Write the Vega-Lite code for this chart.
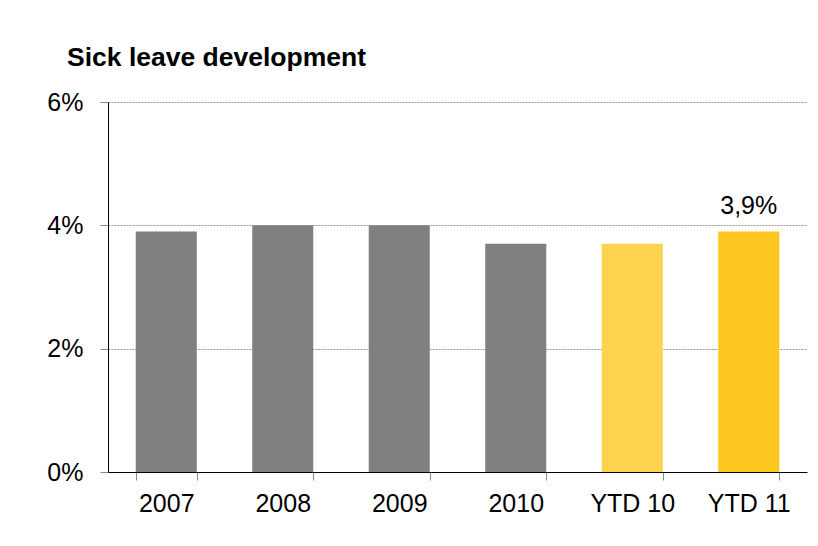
{
  "$schema": "https://vega.github.io/schema/vega-lite/v6.json",
  "autosize": "none",
  "width": 699,
  "height": 370,
  "padding": {"left": 108, "top": 102, "right": 11, "bottom": 74},
  "background": "white",
  "title": {
    "text": "Sick leave development",
    "anchor": "start",
    "frame": "group",
    "dx": -41,
    "offset": -2,
    "baseline": "alphabetic",
    "font": "Liberation Sans",
    "fontSize": 26.5,
    "fontWeight": "bold",
    "color": "#000000"
  },
  "data": {
    "values": [
      {"period": "2007", "value": 0.039, "label": ""},
      {"period": "2008", "value": 0.040, "label": ""},
      {"period": "2009", "value": 0.040, "label": ""},
      {"period": "2010", "value": 0.037, "label": ""},
      {"period": "YTD 10", "value": 0.037, "label": ""},
      {"period": "YTD 11", "value": 0.039, "label": "3,9%"}
    ]
  },
  "encoding": {
    "x": {
      "field": "period",
      "type": "nominal",
      "sort": null,
      "scale": {"paddingInner": 0.476, "paddingOuter": 0.238},
      "axis": {
        "title": null,
        "labelAngle": 0,
        "tickBand": "extent",
        "tickSize": 8,
        "tickColor": "#888888",
        "domainColor": "#000000",
        "labelFont": "Liberation Sans",
        "labelFontSize": 25,
        "labelColor": "#000000",
        "labelPadding": 11
      }
    },
    "y": {
      "field": "value",
      "type": "quantitative",
      "scale": {"domain": [0, 0.06], "nice": false},
      "axis": {
        "title": null,
        "values": [0, 0.02, 0.04, 0.06],
        "format": ".0%",
        "tickSize": 8,
        "tickColor": "#888888",
        "domainColor": "#000000",
        "grid": true,
        "gridDash": [2, 1],
        "gridColor": "#999999",
        "labelFont": "Liberation Sans",
        "labelFontSize": 25,
        "labelColor": "#000000",
        "labelPadding": 17
      }
    }
  },
  "layer": [
    {
      "mark": {"type": "bar"},
      "encoding": {
        "color": {
          "field": "period",
          "type": "nominal",
          "scale": {
            "domain": ["2007", "2008", "2009", "2010", "YTD 10", "YTD 11"],
            "range": ["#808080", "#808080", "#808080", "#808080", "#FDD34F", "#FEC821"]
          },
          "legend": null
        }
      }
    },
    {
      "mark": {"type": "text", "baseline": "alphabetic", "dy": -18, "font": "Liberation Sans", "fontSize": 25, "color": "#000000"},
      "encoding": {"text": {"field": "label"}}
    }
  ],
  "config": {"view": {"stroke": null}}
}
